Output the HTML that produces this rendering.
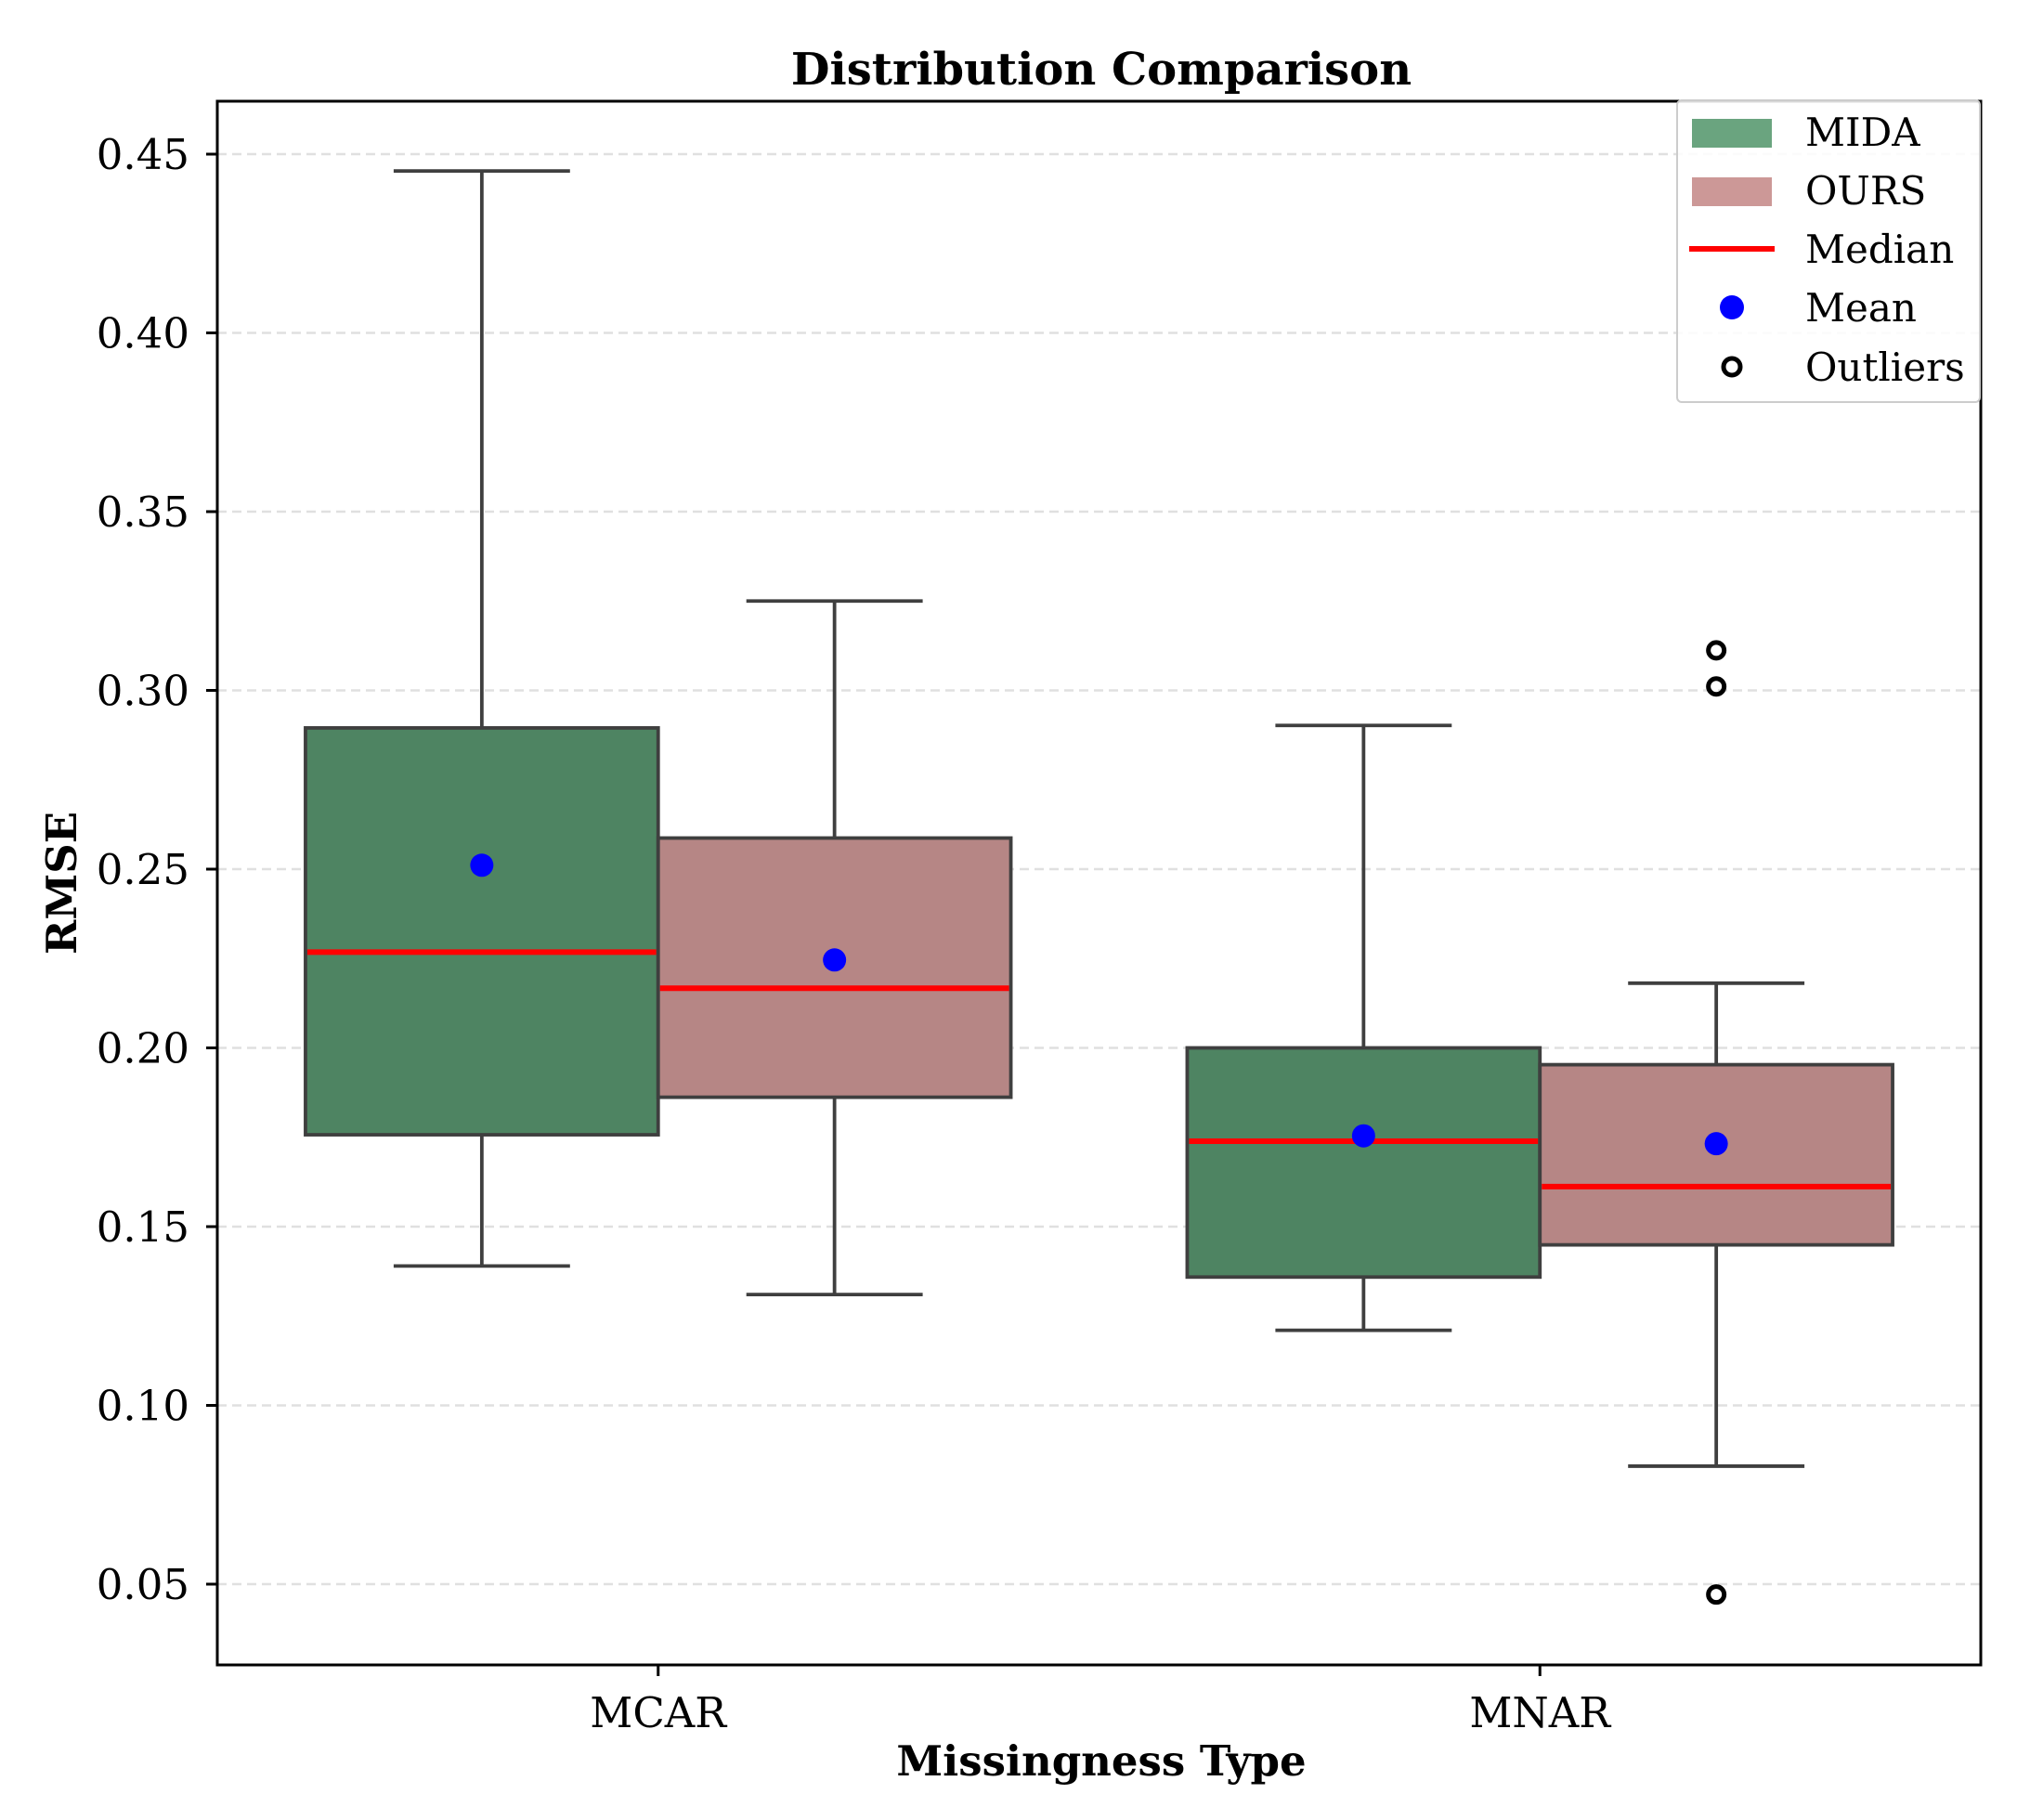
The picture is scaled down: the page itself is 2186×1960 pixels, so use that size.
<!DOCTYPE html>
<html><head><meta charset="utf-8">
<style>
html,body{margin:0;padding:0;background:#fff;}
svg{display:block;font-family:"DejaVu Serif","Liberation Serif",serif;}
</style></head>
<body>
<svg id="chart" width="2186" height="1960" viewBox="0 0 2186 1960">
<rect x="0" y="0" width="2186" height="1960" fill="#fff"/>
<g id="grid"></g>
<g id="boxes"></g>
<rect x="234" y="109" width="1899" height="1684" fill="none" stroke="#000" stroke-width="3"/>
<g id="yticks"></g>
<g id="xticks"></g>
<text x="1186" y="91" text-anchor="middle" font-size="48" font-weight="bold">Distribution Comparison</text>
<text transform="translate(82,951) rotate(-90)" text-anchor="middle" font-size="45" font-weight="bold">RMSE</text>
<text x="1186" y="1912" text-anchor="middle" font-size="45" font-weight="bold">Missingness Type</text>
<g>
<rect x="1806" y="108" width="326" height="325" rx="5" fill="#fff" fill-opacity="0.85" stroke="#ccc" stroke-width="2"/>
<rect x="1822" y="128" width="86" height="31" fill="#6aa47f"/>
<text x="1944" y="157" font-size="42">MIDA</text>
<rect x="1822" y="191" width="86" height="31" fill="#cc9897"/>
<text x="1944" y="220" font-size="42">OURS</text>
<line x1="1819" y1="268" x2="1911" y2="268" stroke="#f00" stroke-width="6"/>
<text x="1944" y="283" font-size="42">Median</text>
<circle cx="1865" cy="331" r="13" fill="#00f"/>
<text x="1944" y="346" font-size="42">Mean</text>
<circle cx="1865" cy="395" r="9" fill="none" stroke="#000" stroke-width="5"/>
<text x="1944" y="410" font-size="42">Outliers</text>
</g>
</svg>
<script>
const categories = ["MCAR", "MNAR"];
const seriesNames = ["MIDA", "OURS"];
const whiskerLow = [[0.139, 0.121], [0.131, 0.083]];
const q1 = [[0.1757, 0.1359], [0.1862, 0.1449]];
const medians = [[0.2268, 0.1739], [0.2167, 0.1612]];
const q3 = [[0.2895, 0.2000], [0.2587, 0.1953]];
const whiskerHigh = [[0.4453, 0.2902], [0.325, 0.2181]];
const means = [[0.2511, 0.1754], [0.2246, 0.1732]];
const outliers = [[[], []], [[], [0.3112, 0.3011, 0.0471]]];
const yTicks = [0.05, 0.10, 0.15, 0.20, 0.25, 0.30, 0.35, 0.40, 0.45];
const yTickLabels = ["0.05", "0.10", "0.15", "0.20", "0.25", "0.30", "0.35", "0.40", "0.45"];
const seriesColors = ["#4e8462", "#b68685"];

const NS = "http://www.w3.org/2000/svg";
function yScale(v){ return 166 + (0.45 - v) * 3850; }
function xScale(c){ return 234 + (c + 0.5) * 949.5; }
const unit = 949.5;
function mk(tag, attrs, parent){
  const e = document.createElementNS(NS, tag);
  for (const k in attrs) e.setAttribute(k, attrs[k]);
  parent.appendChild(e);
  return e;
}
const grid = document.getElementById('grid');
const yt = document.getElementById('yticks');
yTicks.forEach((v, i) => {
  const y = yScale(v);
  const g = mk('line', {x1: 234, x2: 2133, y1: y, y2: y, stroke: '#e0e0e0', 'stroke-width': 2.5, 'stroke-dasharray': '10,6'}, grid);
  
  
  const t = mk('line', {x1: 222, x2: 234, y1: y, y2: y, stroke: '#000', 'stroke-width': 3}, yt);
  
  
  const l = mk('text', {x: 204, y: y + 16, 'text-anchor': 'end', 'font-size': 45}, yt);
  l.textContent = yTickLabels[i];
  
  
});
const xt = document.getElementById('xticks');
categories.forEach((c, i) => {
  const x = xScale(i);
  const t = mk('line', {x1: x, x2: x, y1: 1793, y2: 1805, stroke: '#000', 'stroke-width': 3}, xt);
  
  
  const l = mk('text', {x: x, y: 1860, 'text-anchor': 'middle', 'font-size': 45}, xt);
  l.textContent = c;
  
  
});
const boxes = document.getElementById('boxes');
seriesNames.forEach((s, si) => {
  categories.forEach((c, ci) => {
    const cx = xScale(ci) + (si === 0 ? -0.2 : 0.2) * unit;
    const half = 0.2 * unit;
    const g = mk('g', {}, boxes);
    
    
    const st = {stroke: '#3f3f3f', 'stroke-width': 3.8};
    const w1 = mk('line', Object.assign({x1: cx, x2: cx, y1: yScale(q3[si][ci]), y2: yScale(whiskerHigh[si][ci])}, st), g);
    
    
    const w2 = mk('line', Object.assign({x1: cx, x2: cx, y1: yScale(q1[si][ci]), y2: yScale(whiskerLow[si][ci])}, st), g);
    
    
    const c1 = mk('line', Object.assign({x1: cx - half / 2, x2: cx + half / 2, y1: yScale(whiskerHigh[si][ci]), y2: yScale(whiskerHigh[si][ci])}, st), g);
    
    
    const c2 = mk('line', Object.assign({x1: cx - half / 2, x2: cx + half / 2, y1: yScale(whiskerLow[si][ci]), y2: yScale(whiskerLow[si][ci])}, st), g);
    
    
    const r = mk('rect', Object.assign({x: cx - half, y: yScale(q3[si][ci]), width: 2 * half, height: yScale(q1[si][ci]) - yScale(q3[si][ci]), fill: seriesColors[si]}, st), g);
    
    
    const m = mk('line', {x1: cx - half + 2, x2: cx + half - 2, y1: yScale(medians[si][ci]), y2: yScale(medians[si][ci]), stroke: '#f00', 'stroke-width': 6}, g);
    
    
    const mn = mk('circle', {cx: cx, cy: yScale(means[si][ci]), r: 12.5, fill: '#00f'}, g);
    
    
    outliers[si][ci].forEach(v => {
      const o = mk('circle', {cx: cx, cy: yScale(v), r: 8.5, fill: 'none', stroke: '#000', 'stroke-width': 5}, g);
      
      
    });
  });
});
</script>
</body></html>
